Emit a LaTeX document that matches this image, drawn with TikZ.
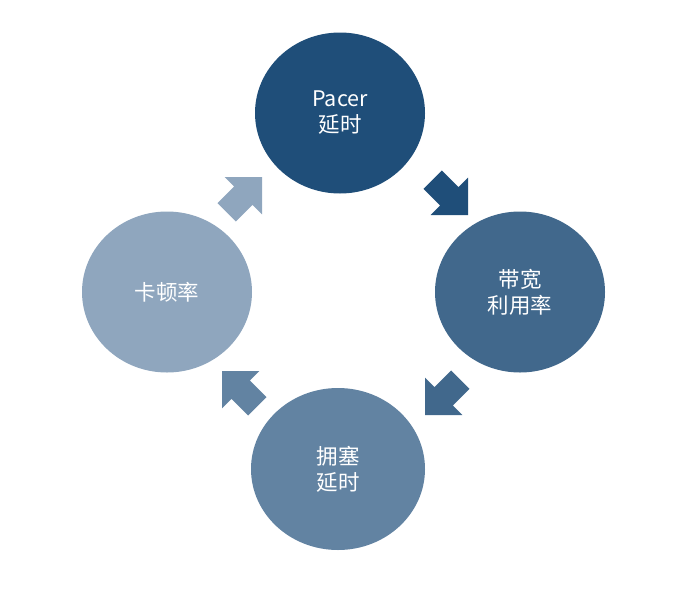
\documentclass[tikz,border=0pt]{standalone}
\usepackage{fontspec}
\setmainfont{Noto Sans CJK SC}
\definecolor{cA}{HTML}{1F4E79}
\definecolor{cB}{HTML}{41688C}
\definecolor{cC}{HTML}{6283A2}
\definecolor{cD}{HTML}{8FA6BE}
\tikzset{
  bubble/.style={ellipse, minimum width=170pt, minimum height=161pt, inner sep=0pt, text=white, align=center, font=\fontsize{21.5}{26}\selectfont},
}
\usetikzlibrary{shapes.geometric}
\newcommand{\blockarrow}[4]{%
  \begin{scope}[shift={(#1,#2)}, rotate=#3]
    \fill[#4] (0,0) -- (-26.5,26.5) -- (-26.5,13) -- (-50,13) -- (-50,-13) -- (-26.5,-13) -- (-26.5,-26.5) -- cycle;
  \end{scope}}
\begin{document}
\begin{tikzpicture}[x=1pt,y=-1pt]
\useasboundingbox (0,0) rectangle (674,592);
\node[bubble, fill=cA] (pacer) at (340,113) {Pacer\\延时};
\node[bubble, fill=cB] (bw) at (520,292) {带宽\\利用率};
\node[bubble, fill=cC, minimum width=174pt, minimum height=162pt] (cong) at (338,469) {拥塞\\延时};
\node[bubble, fill=cD] (stall) at (167,292) {卡顿率};
\blockarrow{468}{215}{-45}{cA}
\blockarrow{425}{415}{-135}{cB}
\blockarrow{222}{371}{135}{cC}
\blockarrow{262}{177}{45}{cD}
\end{tikzpicture}
\end{document}
